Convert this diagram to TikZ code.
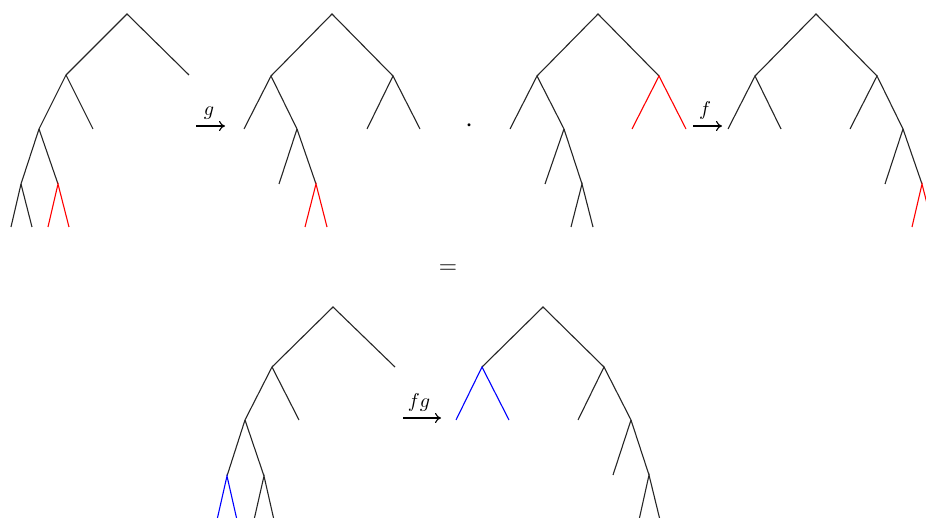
\documentclass[tikz,border=0pt]{standalone}
\usetikzlibrary{arrows.meta}
\begin{document}
\begin{tikzpicture}[x=0.5pt,y=-0.5pt,
  edge/.style={line width=0.55pt,black!85},
  redge/.style={line width=0.55pt,red},
  bedge/.style={line width=0.55pt,blue},
  maparrow/.style={line width=0.55pt,-{To[length=3pt,width=5pt]}},
  lbl/.style={inner sep=0pt,anchor=base}]
\useasboundingbox (0,0) rectangle (926,518);
\clip (0,0) rectangle (926,518);
% Tree A
\coordinate (A0) at (127,14); \coordinate (A1) at (66,75); \coordinate (A2) at (189,75);
\coordinate (A3) at (39,129); \coordinate (A4) at (93,129);
\coordinate (A5) at (21,184); \coordinate (A6) at (58,184);
\coordinate (A7) at (11,227); \coordinate (A8) at (32,227);
\coordinate (A9) at (48,227); \coordinate (A10) at (69,227);
\draw[edge] (A2) -- (A0) -- (A1) -- (A3) -- (A5) -- (A7);
\draw[edge] (A1) -- (A4); \draw[edge] (A3) -- (A6); \draw[edge] (A5) -- (A8);
\draw[redge] (A9) -- (A6) -- (A10);
% arrow g
\coordinate (g1) at (196,126); \coordinate (g2) at (225,126);
\draw[maparrow] (g1) -- (g2);
\node[lbl] (gl) at (209,116) {$g$};
% Tree B
\coordinate (B0) at (332,14); \coordinate (B1) at (271,76); \coordinate (B2) at (393,76);
\coordinate (B3) at (244,129); \coordinate (B4) at (297,129);
\coordinate (B5) at (367,129); \coordinate (B6) at (420,129);
\coordinate (B7) at (279,184); \coordinate (B8) at (316,184);
\coordinate (B9) at (305,227); \coordinate (B10) at (327,227);
\draw[edge] (B1) -- (B0) -- (B2);
\draw[edge] (B3) -- (B1) -- (B4) -- (B8); \draw[edge] (B4) -- (B7);
\draw[edge] (B5) -- (B2) -- (B6);
\draw[redge] (B9) -- (B8) -- (B10);
% dot
\node[inner sep=0pt] (dot) at (469,126) {\Large$\cdot$};
% Tree C
\coordinate (C0) at (598,14); \coordinate (C1) at (537,76); \coordinate (C2) at (659,76);
\coordinate (C3) at (510,129); \coordinate (C4) at (564,129);
\coordinate (C5) at (632,129); \coordinate (C6) at (686,129);
\coordinate (C7) at (545,184); \coordinate (C8) at (582,184);
\coordinate (C9) at (571,227); \coordinate (C10) at (593,227);
\draw[edge] (C1) -- (C0) -- (C2);
\draw[edge] (C3) -- (C1) -- (C4) -- (C8); \draw[edge] (C4) -- (C7);
\draw[edge] (C9) -- (C8) -- (C10);
\draw[redge] (C5) -- (C2) -- (C6);
% arrow f
\coordinate (f1) at (693,126); \coordinate (f2) at (722,126);
\draw[maparrow] (f1) -- (f2);
\node[lbl] (fl) at (705,116) {$f$};
% Tree D
\coordinate (D0) at (816,14); \coordinate (D1) at (755,76); \coordinate (D2) at (877,76);
\coordinate (D3) at (728,129); \coordinate (D4) at (781,129);
\coordinate (D5) at (850,129); \coordinate (D6) at (903,129);
\coordinate (D7) at (885,184); \coordinate (D8) at (922,184);
\coordinate (D9) at (912,227); \coordinate (D10) at (933,227);
\draw[edge] (D1) -- (D0) -- (D2);
\draw[edge] (D3) -- (D1) -- (D4);
\draw[edge] (D5) -- (D2) -- (D6) -- (D8); \draw[edge] (D6) -- (D7);
\draw[redge] (D9) -- (D8) -- (D10);
% equals
\node[inner sep=0pt] (eq) at (448,269) {\large$=$};
% Tree E
\coordinate (E0) at (333,307); \coordinate (E1) at (272,367); \coordinate (E2) at (395,367);
\coordinate (E3) at (245,420); \coordinate (E4) at (299,420);
\coordinate (E5) at (227,476); \coordinate (E6) at (264,476);
\coordinate (E7) at (217,520); \coordinate (E8) at (237,520);
\coordinate (E9) at (254,520); \coordinate (E10) at (274,520);
\draw[edge] (E2) -- (E0) -- (E1) -- (E3) -- (E5);
\draw[edge] (E1) -- (E4); \draw[edge] (E3) -- (E6);
\draw[edge] (E9) -- (E6) -- (E10);
\draw[bedge] (E7) -- (E5) -- (E8);
% arrow fg
\coordinate (h1) at (403,418); \coordinate (h2) at (441,418);
\draw[maparrow] (h1) -- (h2);
\node[lbl] (hl) at (419,407) {$fg$};
% Tree F
\coordinate (F0) at (543,307); \coordinate (F1) at (482,367); \coordinate (F2) at (604,367);
\coordinate (F3) at (456,420); \coordinate (F4) at (509,420);
\coordinate (F5) at (578,420); \coordinate (F6) at (631,420);
\coordinate (F7) at (613,475); \coordinate (F8) at (649,475);
\coordinate (F9) at (639,520); \coordinate (F10) at (660,520);
\draw[edge] (F1) -- (F0) -- (F2);
\draw[bedge] (F3) -- (F1) -- (F4);
\draw[edge] (F5) -- (F2) -- (F6) -- (F8); \draw[edge] (F6) -- (F7);
\draw[edge] (F9) -- (F8) -- (F10);
\end{tikzpicture}
\end{document}
